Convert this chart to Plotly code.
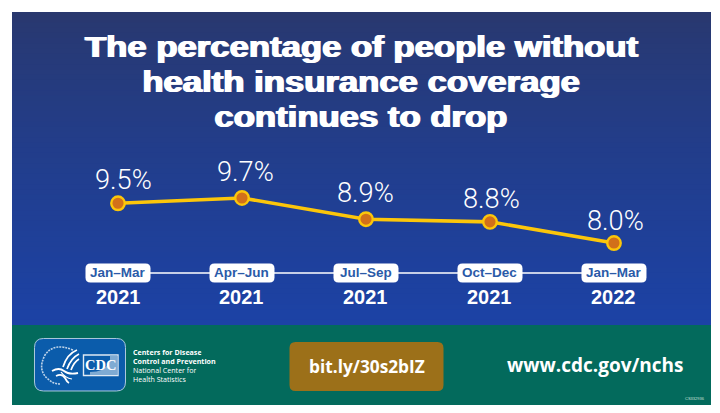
import re
import plotly.graph_objects as go

W, H = 720, 413
periods = ["Jan–Mar", "Apr–Jun", "Jul–Sep", "Oct–Dec", "Jan–Mar"]
years = ["2021", "2021", "2021", "2021", "2022"]
values = [9.5, 9.7, 8.9, 8.8, 8.0]
positions = [0, 1, 2, 3, 4]
labels = ["9.5%", "9.7%", "8.9%", "8.8%", "8.0%"]
title_lines = ["The percentage of people without", "health insurance coverage", "continues to drop"]
org_lines = ["<b>Centers for Disease</b>", "<b>Control and Prevention</b>", "National Center for", "Health Statistics"]

BL, BR, BT, BB, SPLIT = 12, 711, 12, 405, 325


def px(x):
    return x / W


def py(y):
    return 1 - y / H


def lerp(a, b, t):
    return tuple(round(a[i] + (b[i] - a[i]) * t) for i in range(3))


shapes = []
n = 60
top_c, bot_c = (41, 56, 110), (28, 66, 165)
for i in range(n):
    y0 = BT + (SPLIT - BT) * i / n
    c = lerp(top_c, bot_c, min(1, (i / (n - 1)) ** 0.8))
    shapes.append(dict(type="rect", xref="paper", yref="paper", x0=px(BL), x1=px(BR),
                       y0=py(y0), y1=py(SPLIT), fillcolor=f"rgb{c}", line_width=0, layer="below"))
shapes.append(dict(type="rect", xref="paper", yref="paper", x0=px(BL), x1=px(BR),
                   y0=py(SPLIT), y1=py(BB), fillcolor="#036a5c", line_width=0, layer="below"))


def rrect(x0, y0, x1, y1, r):
    return (f"M{x0+r},{y0} L{x1-r},{y0} Q{x1},{y0} {x1},{y0+r} L{x1},{y1-r} Q{x1},{y1} {x1-r},{y1} "
            f"L{x0+r},{y1} Q{x0},{y1} {x0},{y1-r} L{x0},{y0+r} Q{x0},{y0} {x0+r},{y0} Z")


def pshape(path, fill="rgba(0,0,0,0)", line="rgba(0,0,0,0)", lw=0, dash=None):
    toks = re.findall(r"[MLQZ]|-?[\d.]+", path)
    s, is_x = "", True
    for t in toks:
        if t in "MLQZ":
            s += t
            is_x = True
        else:
            s += (f"{px(float(t)):.5f}," if is_x else f"{py(float(t)):.5f} ")
            is_x = not is_x
    ln = dict(color=line, width=lw)
    if dash:
        ln["dash"] = dash
    return dict(type="path", xref="paper", yref="paper", path=s, fillcolor=fill, line=ln, layer="below")


# logo
shapes.append(pshape(rrect(34.5, 338.5, 125.5, 391, 9), fill="#0b5cab", line="#a9c8dc", lw=1))
shapes.append(pshape("M83.5,355 L118,355 L118,375.5 L83.5,375.5 Z", fill="#0b5cab", line="#dfe9f3", lw=1.4))
shapes.append(pshape("M110,355.5 L117.5,355.5 L117.5,375 L90,375 L90,372 Q104,372 110,362 Z", fill="#7fabd3"))
# seal text ring
shapes.append(pshape("M73,350 Q54,342 45,355 Q37,370 48,379 Q53,384 60,384",
                     line="rgba(235,242,250,0.8)", lw=1.6, dash="2px,1px"))
# eagle wing stripes
for stripe in ["M77,350 Q67,354 63,367", "M79,354 Q71,358 67,369", "M79,359 Q74,362 71,370"]:
    shapes.append(pshape(stripe, line="white", lw=1.7))
shapes.append(pshape("M52,371 Q59,367 64,371 Q69,375 78,373", line="white", lw=1.8))
shapes.append(pshape("M56,376 Q62,373 65,378 Q67,382 69,383", line="white", lw=1.8))
shapes.append(pshape("M61,372 Q65,378 72,379", line="white", lw=1.2))
# bit.ly button
shapes.append(pshape(rrect(289.5, 342, 443.5, 391, 6), fill="#9c7019"))

base_val = 6.87
for i, p in enumerate(positions):
    shapes.append(dict(type="path", xref="x", yref="y", xsizemode="pixel", ysizemode="pixel",
                       xanchor=p, yanchor=base_val,
                       path=rrect(-32.5, -9.5, 32.5, 9.5, 5), fillcolor="white", line_width=0, layer="above"))

fig = go.Figure()
fig.add_trace(go.Scatter(x=positions, y=[base_val] * 5, mode="lines",
                         line=dict(color="white", width=1.6), hoverinfo="skip", showlegend=False))
fig.add_trace(go.Scatter(x=positions, y=values, mode="lines+markers",
                         line=dict(color="#fcc60a", width=3.6),
                         marker=dict(size=13.5, color="#d2701a", line=dict(color="#fcc60a", width=2.4)),
                         showlegend=False))

ann = []


def text(x, y, s, size, family="Liberation Sans", color="white", weight=None, anchor="center",
         xref="paper", yref="paper", height=None, shadow=None):
    f = dict(size=size, family=family, color=color)
    if weight:
        f["weight"] = weight
    if shadow:
        f["shadow"] = shadow
    a = dict(x=x, y=y, xref=xref, yref=yref, text=s, showarrow=False, font=f,
             xanchor=anchor, yanchor="middle", align="center" if anchor == "center" else "left")
    if height:
        a["height"] = height
    ann.append(a)


for line_text, yp in zip(title_lines, [46, 81, 116]):
    text(px(361), py(yp), line_text, 30.3, family="Liberation Sans", weight=700,
         shadow="0.8px 0 0 white, -0.8px 0 0 white")

x_shift = [5, 4, 0, 2, 2]
y_shift = [23, 26, 26, 23, 22]
for i, p in enumerate(positions):
    ann.append(dict(x=p, y=values[i], xref="x", yref="y", text=labels[i], showarrow=False,
                    xshift=x_shift[i], yshift=y_shift[i], xanchor="center", yanchor="middle",
                    font=dict(size=27.2, family="Roboto", color="white", weight=300)))
    text(p, base_val, f"<b>{periods[i]}</b>", 13.5, color="#2a5aa8", xref="x", yref="y")
    ann.append(dict(x=p, y=base_val, xref="x", yref="y", text=f"<b>{years[i]}</b>", showarrow=False,
                    yshift=-24, xanchor="center", yanchor="middle",
                    font=dict(size=20, family="Liberation Sans", color="white")))

for s, yp in zip(org_lines, [351.5, 360.5, 369.5, 378]):
    text(px(131), py(yp), s, 7.1, family="Open Sans", anchor="left", height=9)
text(px(100.5), py(365), "<b>CDC</b>", 14.5, family="Liberation Serif")
text(px(366.5), py(366.5), "<b>bit.ly/30s2bIZ</b>", 17.3, family="Open Sans")
text(px(595.5), py(365), "<b>www.cdc.gov/nchs</b>", 19, family="Open Sans")
text(px(695), py(398), "CS332936", 4, family="Liberation Sans", color="#cfe0da")

fig.update_layout(
    width=W, height=H, autosize=False, margin=dict(l=0, r=0, t=0, b=0),
    paper_bgcolor="white", plot_bgcolor="rgba(0,0,0,0)",
    xaxis=dict(range=[-0.9516, 4.855], visible=False, fixedrange=True),
    yaxis=dict(range=[1.587, 17.17], visible=False, fixedrange=True),
    shapes=shapes, annotations=ann, showlegend=False,
)

# Widen the title glyphs: the reference uses a broad heavy face that is not installed.
post = """
document.body.style.margin='0';
var titles = %s;
document.querySelectorAll('.annotation-text').forEach(function(t){
  if (titles.indexOf(t.getAttribute('data-unformatted')) >= 0) {
    t.setAttribute('lengthAdjust','spacingAndGlyphs');
    t.setAttribute('textLength', t.getComputedTextLength()*1.145);
  }
});
""" % (str(title_lines))
fig.write_html("out.html", config=dict(displayModeBar=False), post_script=post)
